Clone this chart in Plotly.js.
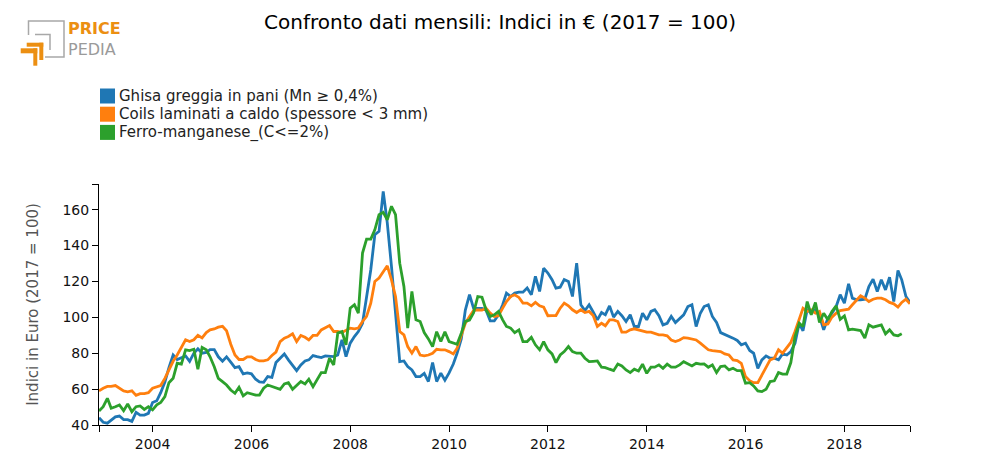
<!DOCTYPE html>
<html><head><meta charset="utf-8">
<script src="https://cdn.plot.ly/plotly-3.0.1.min.js"></script>
<style>html,body{margin:0;padding:0;background:#fff}#chart{width:1000px;height:475px}</style>
</head><body><div id="chart"></div>
<script>
// ---- data (monthly, starting December 2002) ----
const startYear = 2002;
const startMonthIndex = 11; // December

const ghisa = [44,41.5,41,42.5,44.5,45,43,43,42,47,45.5,45.5,46.5,52.5,53.5,58,64,72,79,76.5,
77.5,78.5,75.5,80,82.5,80,80.5,82,82,78,75.5,78,75,72,72.5,68.5,69,68.5,65.5,64,
63.8,67,66.5,74.8,77.2,79.6,76.3,73,70.3,73.5,75.7,76.3,78.7,78.1,77.6,78.5,78.5,78.1,79,87.4,
78.1,85.6,89.3,92.1,96.7,111.6,126.5,146,147.9,170.2,152.6,128.4,102.3,75.3,75.7,72.6,70.7,67,67,68.8,
64.2,74.8,64.2,68.9,65,69,74,80,88,104,112.6,105,105,105,104,98,98,101.4,107,113.5,
111.6,113.5,114,114,116.3,112.6,122.8,114.4,127.4,124.7,121,116.3,116.8,121,120,111.6,130.2,107,103.8,107,
103,98.6,102.7,101.4,106.4,100.1,103.3,100.9,97.7,101.4,94.9,94.9,102.3,98.6,103.3,104.2,100.9,95.8,96.7,100.5,
97.1,99.5,101.4,106,107,94.9,102.3,106,107,100.5,97.1,91.5,90.6,89.3,88.4,87.1,84.7,85.6,81.5,80,
71.6,76.3,78.5,77.2,77.2,76.3,79.6,79,80.9,85.6,96.7,92.5,104.2,102.3,104.2,100.5,93,99.5,102.3,106,
112.6,107.9,118.7,110.7,109.8,109.8,110.1,117.2,121.3,114.4,120.9,115.3,122.4,108.8,126.1,120.9,111.6,108.3];

const coils = [59,60.5,61.5,61.5,62,60.5,59,58.5,59,56.5,57.5,57.5,58,60.5,61.5,62,66,71,75.5,79,
83,87.5,86.5,87.5,90,88.5,91.5,93,93.5,94.5,95,92.5,85,79,76.5,76.5,78,78,76.5,75.7,
75.7,76.3,78.7,80.6,86.5,88.4,89.3,90.8,86.5,89.9,88.9,87.4,89.9,89.9,93,94,95.4,92.1,92.1,91.5,
92.6,94,93.6,94,97.7,100.5,107.9,120,121.9,125.6,128.7,120.9,111.6,92.1,90.2,83.7,80,83.7,79,78.5,
79,80,82.2,81.9,81.9,80.9,79.6,82.8,89.3,96.7,100.5,103.8,104.2,104,105.1,102.3,100.5,100.9,105.1,108.8,
111.6,112.6,111.1,107.9,107.9,106.4,108.3,106.4,105.7,100.9,101,101,105.1,107.9,106.4,104.2,102.7,104.2,102.7,103.3,
101,94.9,96.7,95.3,98.6,98.6,97.7,91.7,91.7,93,93.6,93,92.1,91.7,91.7,90.8,90.2,90.2,89.7,87.4,
86.5,87.4,88.7,88.4,87.8,87.4,85.6,83.7,81.9,81.5,81.3,80.9,79.6,79,76.3,75.9,74.4,67,64.7,63.6,
63.6,67.9,72.6,76.3,77.2,81.9,80,82.8,86,92.1,99.5,105.1,103.3,104.2,102.3,103.3,95.8,96.3,100.1,102.3,
103.8,104.2,104.6,107,109.4,112,110.7,108.8,110.1,110.7,110.7,109.8,108.3,107.5,105.7,108.3,110.1,107.5];

const ferro = [47.8,50.2,54.9,49.3,50.2,51.2,48,51.7,47.4,50.2,50.6,48.7,50.2,48.4,51.2,52.5,55.8,63.6,66,74.4,
73.9,81.9,81.5,82.2,71.1,83.2,81.9,78,72.5,66,64.2,62.3,59.5,57.7,61,56.2,58,57.3,56.7,56.7,
60.5,62.3,61.4,60.8,59.9,62.9,63.6,59.9,62.3,64.2,62.9,65.5,61.4,65.1,69.2,69.2,77.2,73.5,91.2,92.1,
84.7,105.1,107,102.3,135.8,143.6,143.6,148.8,157.2,158.5,154.4,161.9,157.2,130.2,117.2,94,114.4,98.6,97.7,91.5,
88,83.7,92,86.5,92,86.5,85.5,85,91.2,97.7,98.5,102.5,111.6,111.2,104.2,100.5,101.4,103.3,98.6,94.9,
94,91.5,93,86.5,86.5,88.9,84.7,81.9,86.5,81.9,79.6,74.8,79,80.9,83.7,80.9,80,80,77.2,75.3,
75.5,75.7,72.2,72,71.1,70.3,74,72.9,70.7,69.2,71.1,70.1,73.9,68.8,72.2,72.2,73.5,71.6,73.9,72.2,
72.2,73.5,75.3,73.9,72.9,74.4,73.9,74,72.2,73.5,69.2,72.6,72.9,70.7,71.6,70.3,70.3,63.3,63.6,61.8,
59,58.6,59.9,64.2,64.6,69.2,68.4,68.4,74.8,89.3,96.7,94.9,108.8,101.4,108.3,97.1,102.3,98.6,103.3,106.4,
98.9,100.8,93,93.4,93,92.6,88.4,95.8,94.5,95.3,95.8,90.8,93,90.2,89.7,90.8];

const seriesNames = ['Ghisa greggia in pani (Mn \u2265 0,4%)', 'Coils laminati a caldo (spessore < 3 mm)', 'Ferro-manganese_(C<=2%)'];
const seriesColors = ['#1f77b4', '#ff7f0e', '#2ca02c'];
const xTickYears = [2004, 2006, 2008, 2010, 2012, 2014, 2016, 2018];
const yTickValues = [40, 60, 80, 100, 120, 140, 160];

const titleText = 'Confronto dati mensili: Indici in \u20ac (2017 = 100)';
const yTitleText = 'Indici in Euro (2017 = 100)';

// ---- helpers ----
function monthDates(n) {
  const out = [];
  for (let i = 0; i < n; i++) {
    const k = startMonthIndex + i;
    const y = startYear + Math.floor(k / 12);
    const m = (k % 12) + 1;
    out.push(y + '-' + String(m).padStart(2, '0') + '-01');
  }
  return out;
}
const allDates = monthDates(Math.max(ghisa.length, coils.length, ferro.length));
const xStart = allDates[0];
const xEnd = allDates[allDates.length - 1];
const yTop = 174.3;

const FONT = 'DejaVu Sans, Verdana, sans-serif';
const PL = 99, PT = 184, PW = 811, PH = 241;
const px2x = px => (px - PL) / PW;
const py2y = py => (PT + PH - py) / PH;

const series = [ghisa, coils, ferro];
const traces = series.map((vals, k) => ({
  type: 'scatter', mode: 'lines',
  x: allDates.slice(0, vals.length), y: vals,
  name: seriesNames[k],
  line: {color: seriesColors[k], width: 2.8},
  showlegend: false, hoverinfo: 'skip'
}));

// legend (squares + labels) placed like the reference
const shapes = [];
const annotations = [];
const legendRowsY = [96, 114.2, 132.4];
seriesNames.forEach((nm, k) => {
  const cy = legendRowsY[k];
  shapes.push({type: 'rect', xref: 'paper', yref: 'paper',
    x0: px2x(100), x1: px2x(115), y0: py2y(cy + 7.5), y1: py2y(cy - 7.5),
    fillcolor: seriesColors[k], line: {width: 0}});
  annotations.push({xref: 'paper', yref: 'paper', x: px2x(116.5), y: py2y(cy),
    xanchor: 'left', yanchor: 'middle', showarrow: false, text: nm,
    font: {family: FONT, size: 15, color: '#222'}});
});

// logo
const orange = '#ec8f12';
const grey = '#a8a8a8';
function rectPx(x0, y0, x1, y1, color) {
  return {type: 'rect', xref: 'paper', yref: 'paper', x0: px2x(x0), x1: px2x(x1),
    y0: py2y(y1), y1: py2y(y0), fillcolor: color, line: {width: 0}};
}
function pathPx(pts) {
  return 'M' + pts.map(p => px2x(p[0]) + ',' + py2y(p[1])).join(' L');
}
shapes.push({type: 'path', xref: 'paper', yref: 'paper',
  path: pathPx([[28.5, 35], [28.5, 21], [64, 21], [64, 57], [45, 57]]),
  line: {color: grey, width: 1.5}});
shapes.push({type: 'path', xref: 'paper', yref: 'paper',
  path: pathPx([[35, 34.5], [50, 34.5], [50, 50]]),
  line: {color: grey, width: 1.5}});
shapes.push(rectPx(20.7, 48.3, 37.3, 53.3, orange));
shapes.push(rectPx(33.3, 48.3, 37.3, 65.7, orange));
shapes.push(rectPx(26.7, 42.7, 43.3, 46.7, orange));
shapes.push(rectPx(39.3, 42.7, 43.3, 60, orange));
annotations.push({xref: 'paper', yref: 'paper', x: px2x(66.5), y: py2y(39), xanchor: 'left', yanchor: 'bottom',
  showarrow: false, text: '<b>PRICE</b>', borderpad: 0, font: {family: FONT, size: 16, color: orange}});
annotations.push({xref: 'paper', yref: 'paper', x: px2x(66.5), y: py2y(39.5), xanchor: 'left', yanchor: 'top',
  showarrow: false, text: 'PEDIA', borderpad: 0, font: {family: FONT, size: 16, color: '#9a9a9a'}});

const layout = {
  width: 1000, height: 475,
  margin: {l: PL, r: 1000 - PL - PW, t: PT, b: 475 - PT - PH},
  paper_bgcolor: '#fff', plot_bgcolor: '#fff',
  font: {family: FONT, size: 14, color: '#111'},
  title: {text: titleText, font: {family: FONT, size: 20, color: '#000'},
    x: 0.5, xanchor: 'center', xref: 'container', y: 1 - 22 / 475, yanchor: 'middle', yref: 'container'},
  xaxis: {
    type: 'date', range: [xStart, xEnd],
    tickmode: 'array',
    tickvals: [xStart].concat(xTickYears.map(y => y + '-01-01')).concat([xEnd]),
    ticktext: [''].concat(xTickYears.map(String)).concat(['']),
    ticks: 'outside', ticklen: 6, tickcolor: '#000', tickwidth: 1,
    showline: true, linecolor: '#000', linewidth: 1,
    showgrid: false, zeroline: false,
    tickfont: {family: FONT, size: 14, color: '#111'}
  },
  yaxis: {
    range: [40, yTop],
    tickmode: 'array',
    tickvals: yTickValues.concat([yTop]),
    ticktext: yTickValues.map(String).concat(['']),
    ticks: 'outside', ticklen: 6, tickcolor: '#000', tickwidth: 1,
    showline: true, linecolor: '#000', linewidth: 1,
    showgrid: false, zeroline: false,
    tickfont: {family: FONT, size: 14, color: '#111'},
    title: {text: yTitleText, font: {family: FONT, size: 15, color: '#555'}, standoff: 20}
  },
  shapes: shapes,
  annotations: annotations,
  showlegend: false
};

Plotly.newPlot('chart', traces, layout, {displayModeBar: false, staticPlot: true});
</script>
</body></html>
